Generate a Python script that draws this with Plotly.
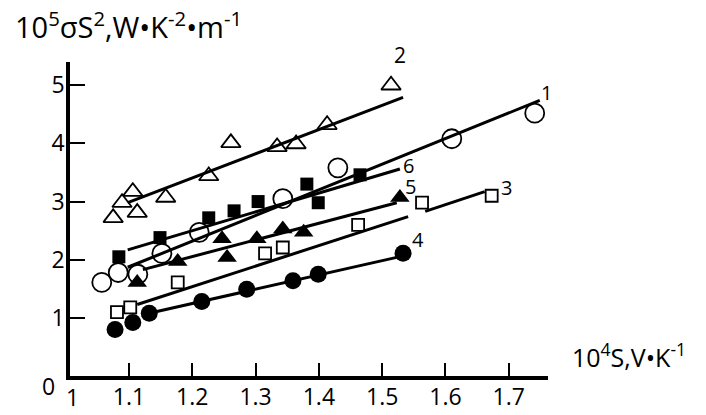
import plotly.graph_objects as go

# ---- data ----
# series 1 : open circles
s1_x = [1.057, 1.083, 1.114, 1.152, 1.211, 1.343, 1.430, 1.610, 1.741]
s1_y = [1.61, 1.78, 1.75, 2.11, 2.47, 3.05, 3.58, 4.08, 4.52]
l1_x = [1.098, 1.749]
l1_y = [1.87, 4.74]

# series 2 : open triangles
s2_x = [1.075, 1.089, 1.106, 1.113, 1.158, 1.226, 1.261, 1.334, 1.364, 1.413, 1.514]
s2_y = [2.72, 2.98, 3.17, 2.81, 3.07, 3.44, 4.01, 3.94, 3.99, 4.32, 5.00]
l2_x = [1.098, 1.533]
l2_y = [2.98, 4.79]

# series 3 : open squares
s3_x = [1.081, 1.102, 1.177, 1.315, 1.343, 1.462, 1.563, 1.673]
s3_y = [1.10, 1.18, 1.61, 2.11, 2.21, 2.60, 2.98, 3.10]
l3a_x = [1.113, 1.541]
l3a_y = [1.23, 2.74]
l3b_x = [1.568, 1.662]
l3b_y = [2.83, 3.17]

# series 4 : filled circles
s4_x = [1.078, 1.106, 1.132, 1.215, 1.286, 1.359, 1.399, 1.533]
s4_y = [0.80, 0.92, 1.08, 1.28, 1.49, 1.64, 1.75, 2.11]
l4_x = [1.144, 1.523]
l4_y = [1.11, 2.04]

# series 5 : filled triangles
s5_x = [1.113, 1.177, 1.255, 1.247, 1.302, 1.343, 1.376, 1.528]
s5_y = [1.61, 1.97, 2.04, 2.36, 2.36, 2.53, 2.47, 3.07]
l5_x = [1.122, 1.523]
l5_y = [1.83, 2.98]

# series 6 : filled squares
s6_x = [1.084, 1.149, 1.226, 1.266, 1.304, 1.381, 1.399, 1.465]
s6_y = [2.05, 2.38, 2.72, 2.84, 3.00, 3.30, 2.98, 3.46]
l6_x = [1.098, 1.528]
l6_y = [2.17, 3.56]

# curve labels (data coordinates)
lab_text = ["1", "6", "5", "3", "4"]
lab_x = [1.760, 1.541, 1.544, 1.697, 1.557]
lab_y = [4.88, 3.62, 3.26, 3.24, 2.35]
# label "2" sits above the plotting range -> placed in paper coordinates
lab2_text = "2"
lab2_px = (0.690, 1.022)

x_ticks = [1.1, 1.2, 1.3, 1.4, 1.5, 1.6, 1.7]
x_tick_text = ["1.1", "1.2", "1.3", "1.4", "1.5", "1.6", "1.7"]
y_ticks = [1, 2, 3, 4, 5]
y_tick_text = ["1", "2", "3", "4", "5"]

FONT = "Open Sans"
BLACK = "#000000"

fig = go.Figure()

# fit lines
for lx, ly in [(l1_x, l1_y), (l2_x, l2_y), (l3a_x, l3a_y), (l3b_x, l3b_y),
               (l4_x, l4_y), (l5_x, l5_y), (l6_x, l6_y)]:
    fig.add_trace(go.Scatter(x=lx, y=ly, mode="lines",
                             line=dict(color=BLACK, width=3), hoverinfo="skip"))

def pts(x, y, symbol, size, lw=1.8):
    fig.add_trace(go.Scatter(x=x, y=y, mode="markers",
                             marker=dict(symbol=symbol, size=size, color=BLACK,
                                         line=dict(color=BLACK, width=lw))))

pts(s1_x, s1_y, "circle-open", 19)
pts(s2_x, s2_y, "triangle-up-open", 17)
pts(s3_x, s3_y, "square-open", 12)
pts(s4_x, s4_y, "circle", 17, 0)
pts(s5_x, s5_y, "triangle-up", 17, 0)
pts(s6_x, s6_y, "square", 13, 0)

for t, x, y in zip(lab_text, lab_x, lab_y):
    fig.add_annotation(x=x, y=y, xref="x", yref="y", text=t, showarrow=False,
                       xanchor="center", yanchor="middle", borderpad=0,
                       font=dict(family=FONT, size=20, color=BLACK))
fig.add_annotation(x=lab2_px[0], y=lab2_px[1], xref="paper", yref="paper",
                   text=lab2_text, showarrow=False, xanchor="center",
                   yanchor="middle", borderpad=0,
                   font=dict(family=FONT, size=21, color=BLACK))

# axis titles and origin labels
fig.add_annotation(x=-0.119, y=1.118, xref="paper", yref="paper", xanchor="left",
                   yanchor="middle", showarrow=False,
                   text="10<sup>5</sup>σS<sup>2</sup>,W•K<sup>-2</sup>•m<sup>-1</sup>",
                   font=dict(family=FONT, size=29, color=BLACK))
fig.add_annotation(x=1.045, y=0.064, xref="paper", yref="paper", xanchor="left",
                   yanchor="middle", showarrow=False,
                   text="10<sup>4</sup>S,V•K<sup>-1</sup>",
                   font=dict(family=FONT, size=25, color=BLACK))
fig.add_annotation(x=-0.046, y=-0.032, xref="paper", yref="paper", showarrow=False,
                   xanchor="center", yanchor="middle",
                   text="0", font=dict(family=FONT, size=23, color=BLACK))
fig.add_annotation(x=0.006, y=-0.120, xref="paper", yref="paper", showarrow=False,
                   xanchor="center", yanchor="bottom", borderpad=0,
                   text="1", font=dict(family=FONT, size=23, color=BLACK))

fig.update_layout(
    width=706, height=415,
    margin=dict(l=70, r=158, t=62, b=39, autoexpand=False),
    paper_bgcolor="white", plot_bgcolor="white",
    showlegend=False,
    font=dict(family=FONT, size=22, color=BLACK),
    xaxis=dict(range=[1.0068, 1.762], showgrid=False, zeroline=False,
               showline=True, linewidth=3.5, linecolor=BLACK,
               ticks="inside", ticklen=13, tickwidth=2, tickcolor=BLACK,
               tickvals=x_ticks, ticktext=x_tick_text, ticklabelstandoff=-2,
               tickfont=dict(family=FONT, size=23, color=BLACK)),
    yaxis=dict(range=[0, 5.4], showgrid=False, zeroline=False,
               showline=True, linewidth=3.5, linecolor=BLACK,
               ticks="inside", ticklen=15, tickwidth=2, tickcolor=BLACK,
               tickvals=y_ticks, ticktext=y_tick_text, ticklabelstandoff=-3,
               tickfont=dict(family=FONT, size=23, color=BLACK)),
)

fig.write_html("out.html")
